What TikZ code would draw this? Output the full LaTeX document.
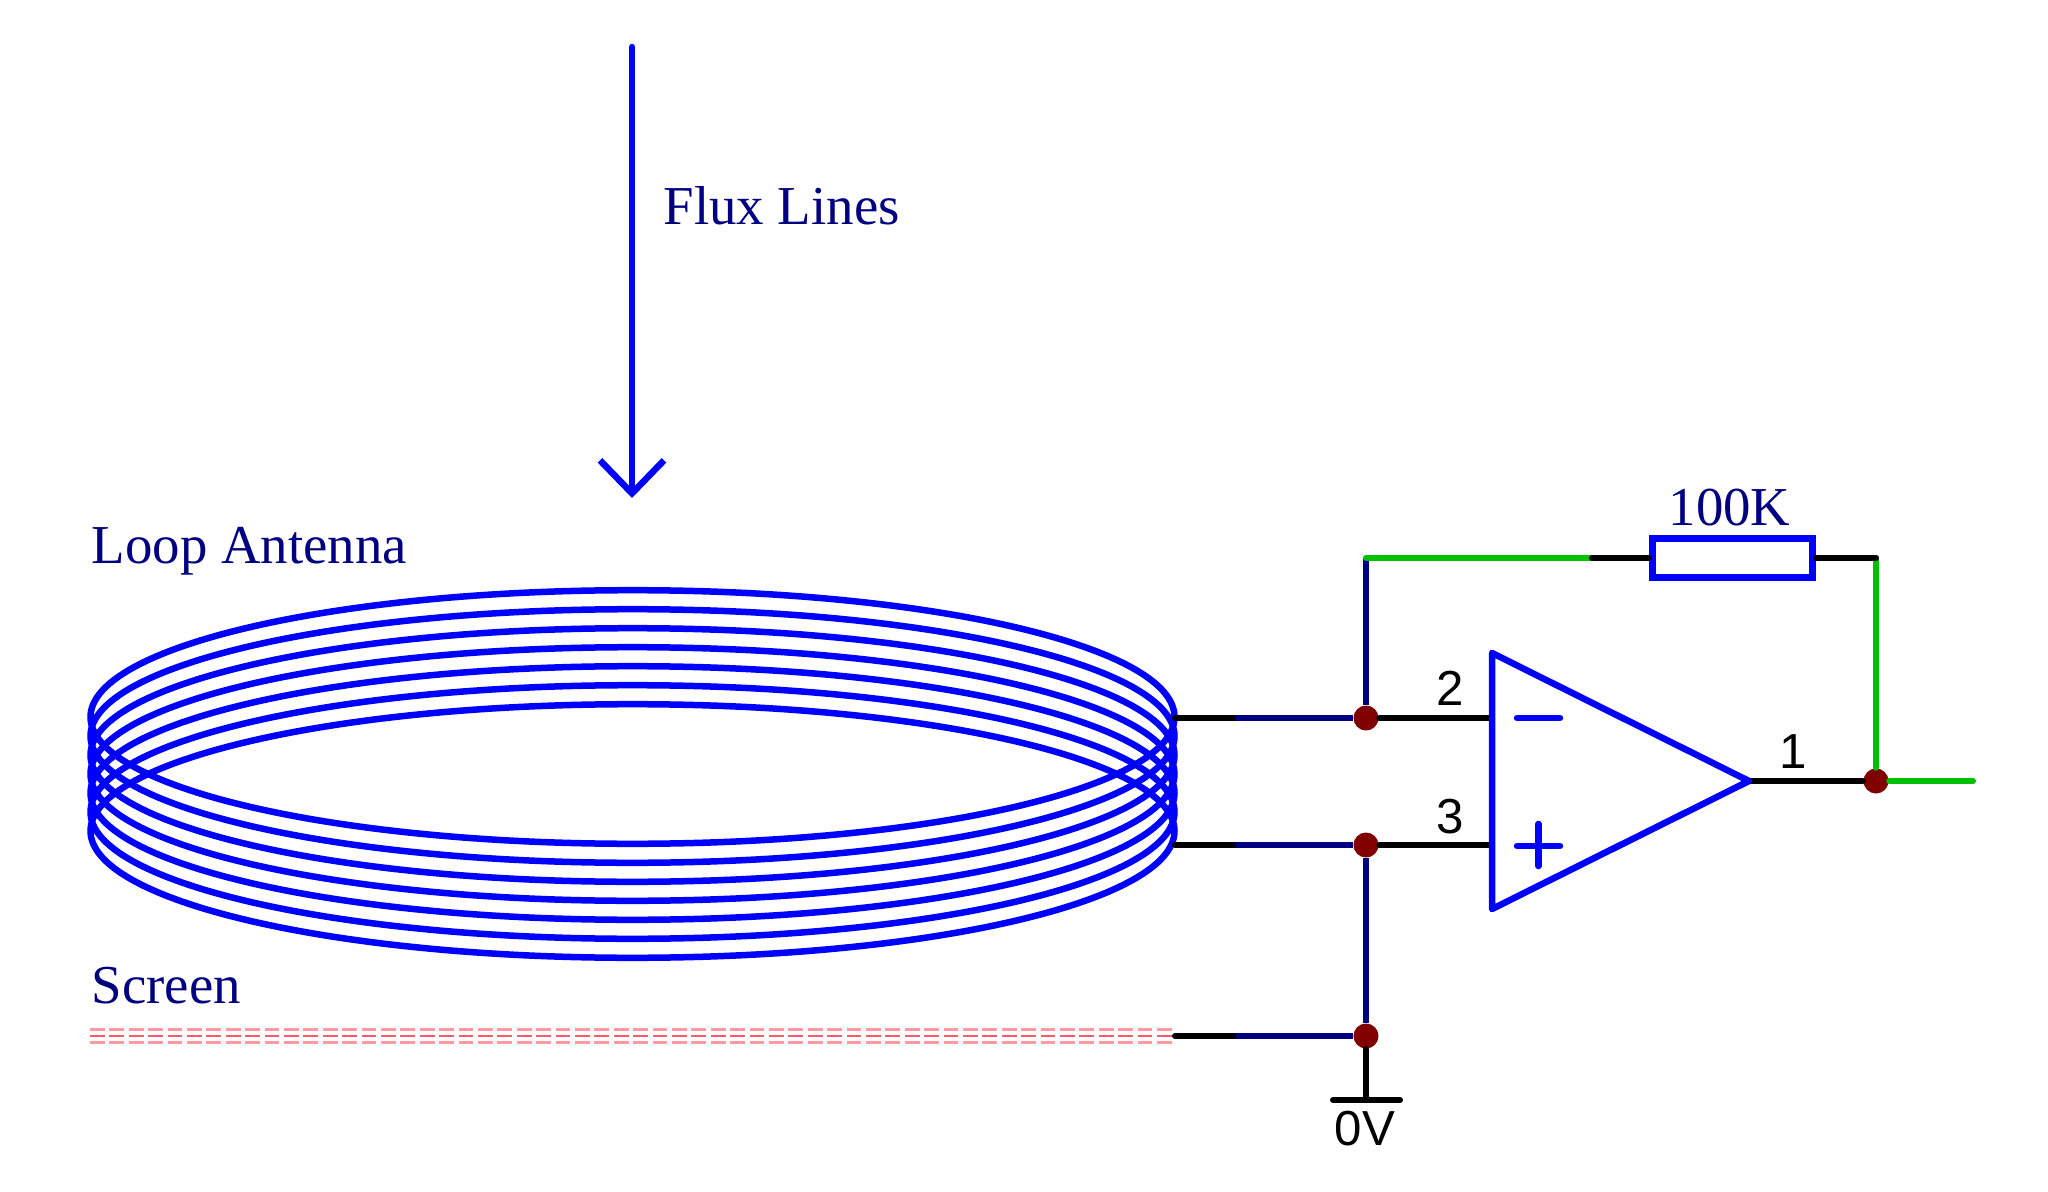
\documentclass[tikz,border=0pt]{standalone}
\usepackage{fontspec}
\setmainfont{Liberation Serif}
\newfontfamily\pinfont{Liberation Sans}
\usetikzlibrary{arrows.meta}
\definecolor{wirenavy}{HTML}{000080}
\definecolor{wiregreen}{HTML}{00C000}
\definecolor{dotred}{HTML}{800000}
\definecolor{screenpink}{HTML}{FF9AA2}
\definecolor{screenred}{HTML}{FF5A68}
\tikzset{>=stealth,
    part/.style = {color = blue, line width = 1.85pt, line join = round, line cap = round},
    wire/.style = {color = black, line width = 1.7pt, line cap = round},
    navywire/.style = {color = wirenavy, line width = 1.7pt},
    greenwire/.style = {color = wiregreen, line width = 1.7pt, line cap = round},
    junction/.style = {circle, fill = dotred, inner sep = 0pt, minimum size = 0.25cm},
    label/.style = {color = wirenavy, inner sep = 0pt, font = \fontsize{15.6}{18}\selectfont},
    pin/.style = {color = black, inner sep = 0pt, font = \pinfont\fontsize{14}{16}\selectfont},
    shield/.style = {line width = 0.6pt, dash pattern = on 0.148cm off 0.046cm}
}
\begin{document}
\begin{tikzpicture}[y=-1cm]
    \useasboundingbox (0,0) rectangle (20.48,11.92);

    \coordinate (fluxtop) at (6.32,0.47);
    \coordinate (fluxtip) at (6.32,4.98);
    \draw [part, -{Straight Barb[length = 0.33cm, width = 0.64cm]}] (fluxtop) -- (fluxtip);
    \node [label, anchor = base west] (fluxlabel) at (6.63,2.25) {Flux Lines};

    \foreach \y in {7.17,7.36,7.55,7.74,7.93,8.12,8.31}
        \draw [part] (6.325,\y) ellipse (5.42 and 1.268);
    \node [label, anchor = base west] (looplabel) at (0.91,5.63) {Loop Antenna};

    \node [label, anchor = base west] (screenlabel) at (0.91,10.03) {Screen};
    \coordinate (screenl) at (0.90,10.36);
    \coordinate (screenr) at (11.75,10.36);
    \draw [shield, color = screenpink] ([yshift = -0.065cm]screenl) -- ([yshift = -0.065cm]screenr);
    \draw [shield, color = screenred] (screenl) -- (screenr);
    \draw [shield, color = screenpink] ([yshift = 0.065cm]screenl) -- ([yshift = 0.065cm]screenr);

    \coordinate (coilm) at (11.75,7.18);
    \coordinate (coilp) at (11.75,8.45);
    \coordinate (coils) at (11.75,10.36);
    \coordinate (mbreak) at (12.36,7.18);
    \coordinate (pbreak) at (12.36,8.45);
    \coordinate (sbreak) at (12.36,10.36);
    \node [junction] (jm) at (13.66,7.18) {};
    \node [junction] (jp) at (13.66,8.45) {};
    \node [junction] (js) at (13.66,10.36) {};
    \node [junction] (jout) at (18.76,7.81) {};
    \coordinate (inm) at (14.92,7.18);
    \coordinate (inp) at (14.92,8.45);
    \coordinate (outtip) at (17.49,7.81);
    \coordinate (outend) at (19.73,7.81);
    \coordinate (fbl) at (13.66,5.58);
    \coordinate (fbbreak) at (15.92,5.58);
    \coordinate (fbr) at (18.76,5.58);
    \coordinate (gnd) at (13.66,11.00);
    \coordinate (gndl) at (13.33,11.00);
    \coordinate (gndr) at (14.00,11.00);

    \draw [wire] (coilm) -- (mbreak);
    \draw [wire] (coilp) -- (pbreak);
    \draw [wire] (coils) -- (sbreak);
    \draw [navywire] (mbreak) -- (jm);
    \draw [navywire] (pbreak) -- (jp);
    \draw [navywire] (sbreak) -- (js);
    \draw [navywire] (fbl) -- (jm);
    \draw [navywire] (jp) -- (js);
    \draw [wire] (jm) -- (inm);
    \draw [wire] (jp) -- (inp);
    \draw [wire] (outtip) -- (jout);
    \draw [greenwire] (jout) -- (outend);
    \draw [greenwire] (jout) -- (fbr);
    \draw [greenwire] (fbl) -- (fbbreak);
    \draw [wire] (js) -- (gnd);

    \node [pin, anchor = base] (pintwo) at (14.50,7.05) {2};
    \node [pin, anchor = base] (pinthree) at (14.50,8.33) {3};
    \node [pin, anchor = base] (pinone) at (17.93,7.68) {1};

    \node [draw = blue, line width = 1.85pt, minimum width = 1.60cm, minimum height = 0.39cm, inner sep = 0pt] (rf) at (17.325,5.58) {};
    \node [label, anchor = base west] (rflabel) at (16.68,5.25) {100K};
    \draw [wire] (fbbreak) -- (rf.west);
    \draw [wire] (rf.east) -- (fbr);

    \draw [part] (14.92,6.53) -- (outtip) -- (14.92,9.09) -- cycle;
    \draw [part] (15.17,7.18) -- (15.60,7.18);
    \draw [part] (15.17,8.46) -- (15.60,8.46);
    \draw [part] (15.385,8.24) -- (15.385,8.66);

    \draw [wire] (gndl) -- (gndr);
    \node [pin, anchor = base] (gndlabel) at (13.65,11.45) {0V};
\end{tikzpicture}
\end{document}
